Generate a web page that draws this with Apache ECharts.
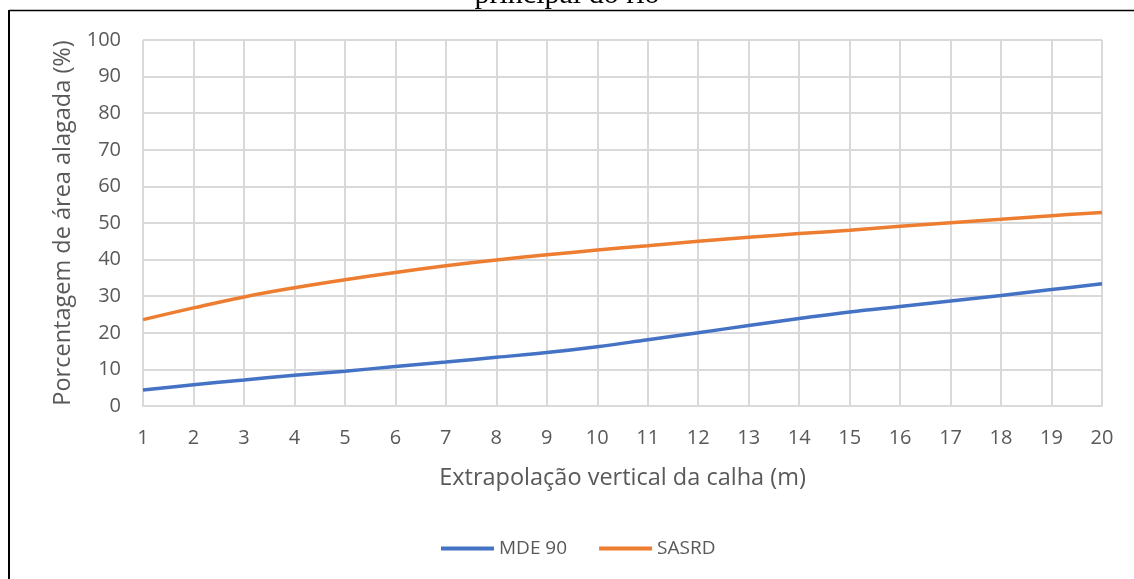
<!DOCTYPE html>
<html>
<head>
<meta charset="utf-8">
<script src="https://cdn.jsdelivr.net/npm/echarts@6/dist/echarts.min.js"></script>
<style>
  html, body { margin: 0; padding: 0; background: #fff; }
  #chart { width: 1134px; height: 579px; }
</style>
</head>
<body>
<div id="chart"></div>
<script>
// Vertical extrapolation of the channel (m)
const extrapolacao = ['1','2','3','4','5','6','7','8','9','10','11','12','13','14','15','16','17','18','19','20'];
// Flooded area percentage per model
const mde90 = [4.4, 5.8, 7.1, 8.4, 9.5, 10.8, 12.0, 13.3, 14.6, 16.2, 18.1, 20.0, 22.0, 23.9, 25.7, 27.2, 28.7, 30.2, 31.8, 33.4];
const sasrd = [23.6, 26.8, 29.8, 32.3, 34.5, 36.5, 38.3, 39.9, 41.3, 42.6, 43.8, 45.0, 46.1, 47.1, 48.0, 49.1, 50.1, 51.0, 52.0, 52.9];

const FONT = '"Open Sans", "Liberation Sans", sans-serif';
const TEXT = '#595959';
const GRID = '#d9d9d9';

const chart = echarts.init(document.getElementById('chart'), null, { renderer: 'canvas' });

chart.setOption({
  animation: false,
  backgroundColor: '#ffffff',
  textStyle: { fontFamily: FONT },
  grid: { left: 143, right: 32, top: 40, bottom: 173, containLabel: false },
  graphic: [
    // title, mostly above the frame
    { type: 'text', left: 'center', top: -20, z: 1,
      style: { text: 'principal do rio', font: '30px "Liberation Serif", "DejaVu Serif", serif', fill: '#000' } },
    // frame lines
    { type: 'line', z: 2, shape: { x1: 9, y1: 10.5, x2: 1134, y2: 10.5 }, style: { stroke: '#000', lineWidth: 1.5 } },
    { type: 'line', z: 2, shape: { x1: 9, y1: 10, x2: 9, y2: 579 }, style: { stroke: '#000', lineWidth: 2 } }
  ],
  legend: {
    bottom: 16,
    left: 436,
    itemWidth: 53,
    itemHeight: 4,
    itemGap: 32,
    icon: 'path://M0,0 L53,0 L53,4 L0,4 Z',
    textStyle: { color: TEXT, fontSize: 19, fontFamily: FONT },
    data: ['MDE 90', 'SASRD']
  },
  xAxis: {
    type: 'category',
    boundaryGap: false,
    data: extrapolacao,
    name: 'Extrapolação vertical da calha (m)',
    nameLocation: 'middle',
    nameGap: 60,
    nameTextStyle: { color: TEXT, fontSize: 23.5, fontFamily: FONT },
    axisLine: { lineStyle: { color: GRID, width: 2 } },
    axisTick: { show: false },
    axisLabel: { color: TEXT, fontSize: 20, margin: 22, fontFamily: FONT, interval: 0 },
    splitLine: { show: true, interval: 0, lineStyle: { color: GRID, width: 2 } }
  },
  yAxis: {
    type: 'value',
    min: 0,
    max: 100,
    interval: 10,
    name: 'Porcentagem de área alagada (%)',
    nameLocation: 'middle',
    nameGap: 67,
    nameTextStyle: { color: TEXT, fontSize: 23.5, fontFamily: FONT },
    axisLine: { show: false },
    axisTick: { show: false },
    axisLabel: { color: TEXT, fontSize: 20, margin: 22, fontFamily: FONT },
    splitLine: { show: true, lineStyle: { color: GRID, width: 2 } }
  },
  series: [
    {
      name: 'MDE 90', type: 'line', data: mde90, smooth: 0.4, showSymbol: false,
      lineStyle: { color: '#4472C4', width: 3.5 }, itemStyle: { color: '#4472C4' }
    },
    {
      name: 'SASRD', type: 'line', data: sasrd, smooth: 0.4, showSymbol: false,
      lineStyle: { color: '#ED7D31', width: 3.5 }, itemStyle: { color: '#ED7D31' }
    }
  ]
});
</script>
</body>
</html>
